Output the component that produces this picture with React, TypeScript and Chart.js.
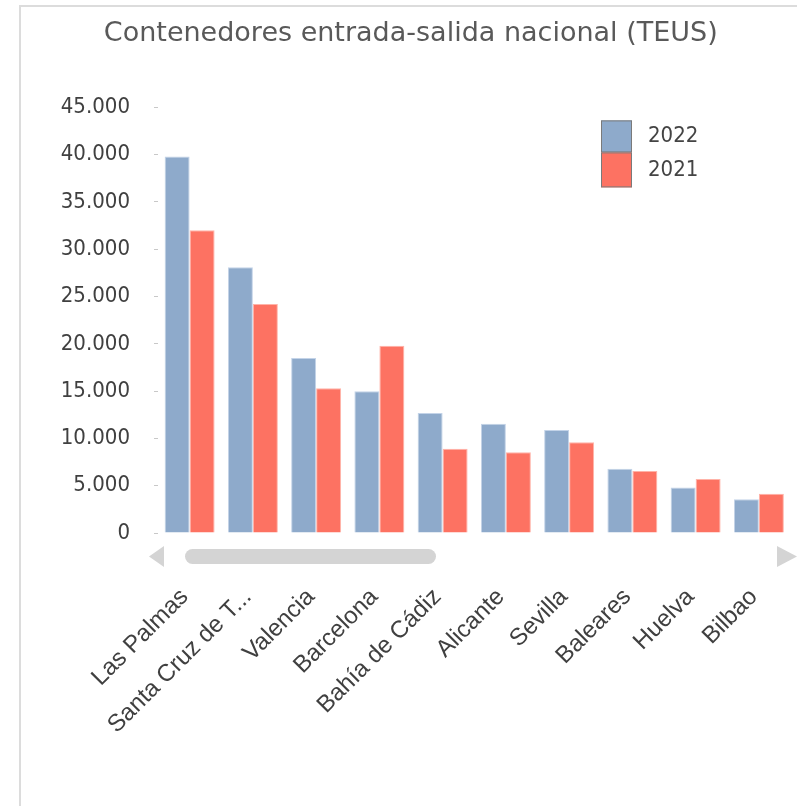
import React, { useEffect, useRef } from "react";
import { Chart, registerables } from "chart.js";

Chart.register(...registerables);

const categories = [
  "Las Palmas",
  "Santa Cruz de T...",
  "Valencia",
  "Barcelona",
  "Bahía de Cádiz",
  "Alicante",
  "Sevilla",
  "Baleares",
  "Huelva",
  "Bilbao",
];
const seriesNames = ["2022", "2021"];
const values2022 = [39800, 28100, 18500, 15000, 12700, 11550, 10900, 6800, 4800, 3570];
const values2021 = [32000, 24200, 15300, 19800, 8900, 8550, 9600, 6550, 5700, 4160];
const yTickValues = [0, 5000, 10000, 15000, 20000, 25000, 30000, 35000, 40000, 45000];
const titleText = "Contenedores entrada-salida nacional (TEUS)";

const fmt = (v: number) => String(v).replace(/\B(?=(\d{3})+(?!\d))/g, ".");

const decorPlugin = {
  id: "decor",
  afterDraw(chart: any) {
    const ctx = chart.ctx;
    const ca = chart.chartArea;
    ctx.save();
    // legend
    const bx = ca.right - 189.5;
    const by = ca.top + 13;
    const bw = 31;
    const bh = [32, 35];
    let y = by;
    chart.data.datasets.forEach((ds: any, i: number) => {
      ctx.fillStyle = ds.backgroundColor;
      ctx.fillRect(bx, y, bw, bh[i]);
      ctx.strokeStyle = "#7a7a7a";
      ctx.lineWidth = 1;
      ctx.strokeRect(bx + 0.5, y + 0.5, bw - 1, bh[i] - 1);
      ctx.fillStyle = "#444444";
      ctx.font = '22px "DejaVu Sans Condensed", "DejaVu Sans", sans-serif';
      ctx.textAlign = "left";
      ctx.textBaseline = "middle";
      ctx.fillText(ds.label, bx + 47, y + bh[i] / 2);
      y += bh[i];
    });
    // scrollbar
    const sy = ca.bottom;
    ctx.fillStyle = "#d4d4d4";
    ctx.beginPath();
    ctx.moveTo(ca.left - 9, sy + 23.5);
    ctx.lineTo(ca.left + 6, sy + 13);
    ctx.lineTo(ca.left + 6, sy + 34);
    ctx.closePath();
    ctx.fill();
    ctx.beginPath();
    ctx.moveTo(ca.right + 6.5, sy + 23.5);
    ctx.lineTo(ca.right - 13.5, sy + 13);
    ctx.lineTo(ca.right - 13.5, sy + 34);
    ctx.closePath();
    ctx.fill();
    const px = ca.left + 27;
    const pw = 251;
    const ph = 15;
    const py = sy + 16;
    const r = ph / 2;
    ctx.beginPath();
    ctx.moveTo(px + r, py);
    ctx.lineTo(px + pw - r, py);
    ctx.arc(px + pw - r, py + r, r, -Math.PI / 2, Math.PI / 2);
    ctx.lineTo(px + r, py + ph);
    ctx.arc(px + r, py + r, r, Math.PI / 2, (3 * Math.PI) / 2);
    ctx.closePath();
    ctx.fill();
    ctx.restore();
  },
};

export default function App() {
  const ref = useRef<HTMLCanvasElement>(null);
  useEffect(() => {
    if (!ref.current) return;
    const chart = new Chart(ref.current, {
      type: "bar",
      data: {
        labels: categories,
        datasets: [
          {
            label: seriesNames[0],
            data: values2022,
            backgroundColor: "#8eaacb",
            borderColor: "#c3d3e8",
            borderWidth: 1,
            categoryPercentage: 0.79,
            barPercentage: 1.0,
          },
          {
            label: seriesNames[1],
            data: values2021,
            backgroundColor: "#fd7262",
            borderColor: "#ffb3a8",
            borderWidth: 1,
            categoryPercentage: 0.79,
            barPercentage: 1.0,
          },
        ],
      },
      options: {
        responsive: false,
        animation: false,
        layout: { padding: { left: 0, right: 6.5, top: 0, bottom: 0 } },
        plugins: {
          legend: { display: false },
          tooltip: { enabled: false },
          title: {
            display: true,
            text: titleText,
            color: "#595959",
            font: { family: '"DejaVu Sans", sans-serif', size: 27, weight: "normal" },
            padding: { top: 18, bottom: 57 },
          },
        },
        scales: {
          x: {
            grid: { display: false },
            border: { display: false },
            ticks: {
              color: "#404040",
              font: { family: '"Liberation Sans", Arial, sans-serif', size: 24 },
              maxRotation: 45,
              minRotation: 45,
              autoSkip: false,
              padding: 42,
              labelOffset: -5,
            },
            afterFit: (s: any) => {
              s.height = 273;
              s.paddingLeft = 0;
              s.paddingRight = 0;
            },
          },
          y: {
            min: 0,
            max: 45000,
            afterBuildTicks: (s: any) => {
              s.ticks = yTickValues.map((v) => ({ value: v }));
            },
            grid: { drawOnChartArea: false, drawTicks: true, tickLength: 4, color: "#c8c8c8" },
            border: { display: false },
            ticks: {
              color: "#404040",
              font: { family: '"DejaVu Sans Condensed", "DejaVu Sans", sans-serif', size: 22 },
              padding: 24,
              callback: (v: any) => fmt(Number(v)),
            },
            afterFit: (s: any) => {
              s.width = 127;
            },
          },
        },
      },
      plugins: [decorPlugin],
    });
    return () => chart.destroy();
  }, []);

  return (
    <div style={{ position: "absolute", left: 0, top: 0, width: 797, height: 806, background: "#ffffff", overflow: "hidden" }}>
      <div
        style={{
          position: "absolute",
          left: 19,
          top: 5,
          right: 0,
          bottom: 0,
          borderLeft: "2px solid #dcdcdc",
          borderTop: "2px solid #dcdcdc",
        }}
      />
      <canvas ref={ref} width={766} height={806} style={{ position: "absolute", left: 31, top: 0 }} />
    </div>
  );
}
